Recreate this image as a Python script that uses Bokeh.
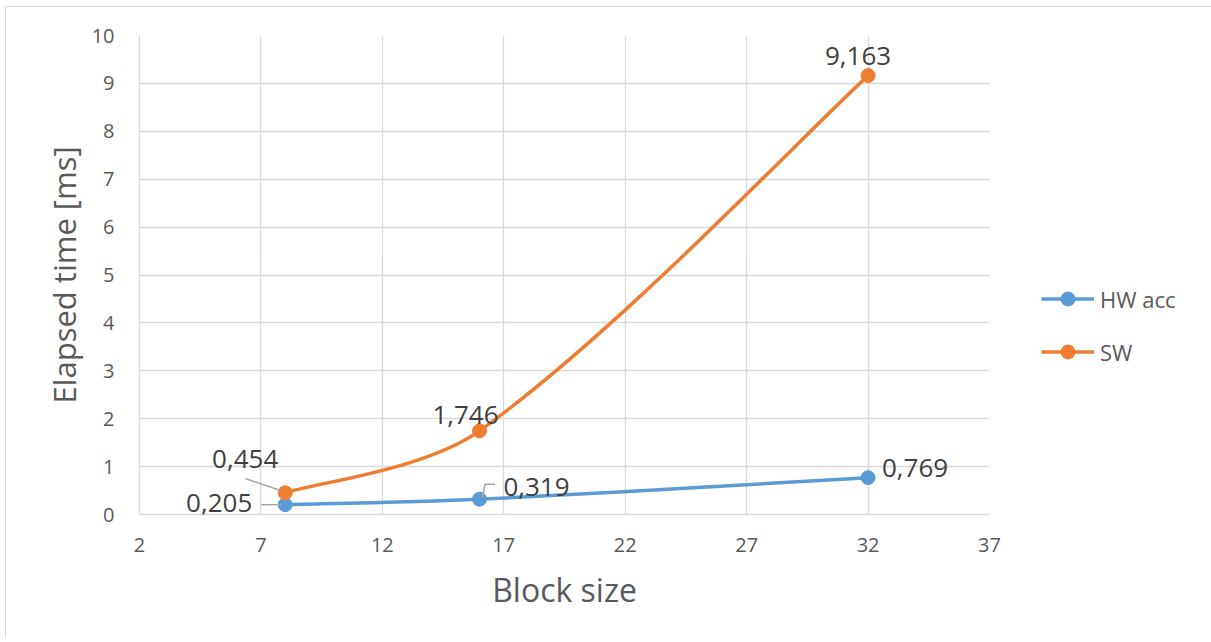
import numpy as np
from bokeh.plotting import figure
from bokeh.models import FixedTicker, Legend, LegendItem, Range1d, LabelSet, ColumnDataSource
from bokeh.embed import file_html
from bokeh.resources import INLINE
from bokeh.core.properties import value

# ---- data ----
block_size = [8, 16, 32]
hw_acc = [0.205, 0.319, 0.769]
sw = [0.454, 1.746, 9.163]
hw_labels = ["0,205", "0,319", "0,769"]
sw_labels = ["0,454", "1,746", "9,163"]
series_names = ["HW acc", "SW"]
x_ticks = [2, 7, 12, 17, 22, 27, 32, 37]
y_ticks = [0, 1, 2, 3, 4, 5, 6, 7, 8, 9, 10]
x_title = "Block size"
y_title = "Elapsed time [ms]"

# ---- style ----
BLUE = "#5B9BD5"
ORANGE = "#ED7D31"
GRID = "#D9D9D9"
TXT = "#595959"
LBL = "#404040"
FONT = "Open Sans"
X_MIN, X_MAX, Y_MIN, Y_MAX = 2, 37, 0, 10
FW, FH = 850, 479
SX = FW / (X_MAX - X_MIN)
SY = FH / (Y_MAX - Y_MIN)

# label offsets in screen pixels (dx right, dy down) relative to point
hw_lab_off = [(-66, -1.5), (57, -12.5), (47, -9.5)]
sw_lab_off = [(-40, -34), (-14, -15.5), (-10, -19.5)]
# leader lines in screen pixel offsets relative to point
hw_leaders = [[(-24, 0), (-4, 0)], [(2.5, -1), (5.5, -15), (15.5, -15)], None]
sw_leaders = [[(-39.5, -14), (-4, -2)], None, None]


def smooth(xs, ys):
    P = np.column_stack([np.asarray(xs, float) * SX, np.asarray(ys, float) * SY])
    n = len(P)
    out = {k: [] for k in ("x0", "y0", "x1", "y1", "cx0", "cy0", "cx1", "cy1")}
    for i in range(n - 1):
        p0, p1 = P[i], P[i + 1]
        d = np.linalg.norm(p1 - p0)
        if i == 0:
            c0 = p0 + (p1 - p0) / 6
        else:
            dp = np.linalg.norm(p0 - P[i - 1])
            c0 = p0 + (p1 - P[i - 1]) / 3 * d / (d + dp)
        if i + 2 >= n:
            c1 = p1 - (p1 - p0) / 6
        else:
            dn = np.linalg.norm(P[i + 2] - p1)
            c1 = p1 - (P[i + 2] - p0) / 3 * d / (d + dn)
        for k, pt in (("0", p0), ("1", p1)):
            out["x" + k].append(pt[0] / SX)
            out["y" + k].append(pt[1] / SY)
        out["cx0"].append(c0[0] / SX)
        out["cy0"].append(c0[1] / SY)
        out["cx1"].append(c1[0] / SX)
        out["cy1"].append(c1[1] / SY)
    return out


p = figure(frame_width=FW, frame_height=FH,
           x_range=Range1d(X_MIN, X_MAX), y_range=Range1d(Y_MIN, Y_MAX),
           output_backend="svg", toolbar_location=None,
           min_border_left=133, min_border_right=218,
           min_border_top=28, min_border_bottom=124,
           background_fill_color="white", border_fill_color="white",
           styles={"border-top": "1px solid #D9D9D9", "border-left": "1px solid #D9D9D9",
                   "margin-left": "5px", "margin-top": "6px"})
p.outline_line_color = None

for ax, ticks, title in ((p.xaxis, x_ticks, x_title), (p.yaxis, y_ticks, y_title)):
    ax.ticker = FixedTicker(ticks=ticks)
    ax.axis_line_color = GRID
    ax.axis_line_width = 1.3
    ax.major_tick_line_color = None
    ax.minor_tick_line_color = None
    ax.major_label_text_font = FONT
    ax.major_label_text_font_size = "20px"
    ax.major_label_text_color = TXT
    ax.axis_label = title
    ax.axis_label_text_font = FONT
    ax.axis_label_text_font_style = "normal"
    ax.axis_label_text_color = TXT
p.xaxis.major_label_standoff = 17
p.yaxis.major_label_standoff = 19
p.xaxis.axis_label_text_font_size = "32px"
p.yaxis.axis_label_text_font_size = "31px"
p.xaxis.axis_label_standoff = 13
p.yaxis.axis_label_standoff = 4

p.xgrid.ticker = FixedTicker(ticks=x_ticks)
p.ygrid.ticker = FixedTicker(ticks=y_ticks)
for g in (p.xgrid, p.ygrid):
    g.grid_line_color = GRID
    g.grid_line_width = 1.3

legend_items = []
for ys, color, labels, offs, leaders, name in (
        (hw_acc, BLUE, hw_labels, hw_lab_off, hw_leaders, series_names[0]),
        (sw, ORANGE, sw_labels, sw_lab_off, sw_leaders, series_names[1])):
    seg = smooth(block_size, ys)
    p.bezier(**seg, line_color=color, line_width=3.5, line_cap="round")
    sc = p.scatter(block_size, ys, size=14, fill_color=color, line_color=color)
    # leader lines
    lx, ly = [], []
    for x, y, ld in zip(block_size, ys, leaders):
        if ld is None:
            continue
        lx.append([x + dx / SX for dx, dy in ld])
        ly.append([y - dy / SY for dx, dy in ld])
    if lx:
        p.multi_line(lx, ly, line_color="#A6A6A6", line_width=1.5)
    src = ColumnDataSource(dict(
        x=block_size, y=ys, text=labels,
        dx=[o[0] for o in offs], dy=[-o[1] for o in offs]))
    p.add_layout(LabelSet(x="x", y="y", text="text", x_offset="dx", y_offset="dy",
                          source=src, text_font=value(FONT), text_font_size="26px",
                          text_color=LBL, text_align="center", text_baseline="middle"))
    # legend proxy (line style only, draws nothing in the plot)
    lr = p.line(x=[float("nan")], y=[float("nan")], line_color=color, line_width=3.5)
    legend_items.append(LegendItem(label=name, renderers=[lr, sc]))

legend = Legend(items=legend_items, location=(52, 145),
                glyph_width=53, glyph_height=35, label_height=35,
                label_standoff=6, spacing=18, padding=0, margin=0,
                border_line_color=None, background_fill_alpha=0,
                label_text_font=FONT, label_text_font_size="22px",
                label_text_color=TXT)
p.add_layout(legend, "right")

open("out.html", "w").write(file_html(p, INLINE))
